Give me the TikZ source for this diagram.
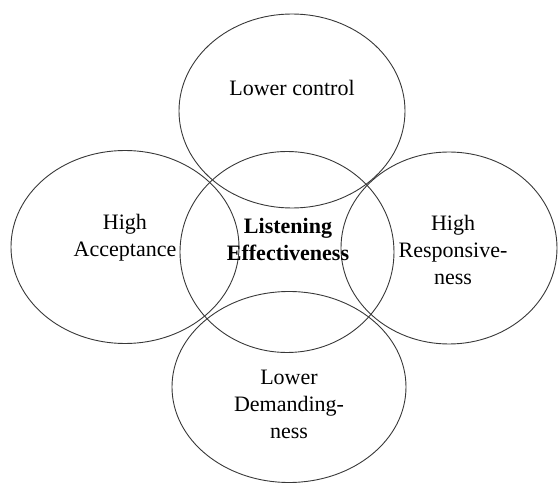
\documentclass[tikz,border=0pt]{standalone}
\usepackage{fontspec}
\setmainfont{Liberation Serif}
\usetikzlibrary{shapes.geometric}
\begin{document}
\begin{tikzpicture}[x=1pt,y=-1pt,
  ring/.style={draw=black!78,line width=0.9pt,ellipse,inner sep=0pt,outer sep=0pt},
  lbl/.style={align=center,inner sep=0pt,font=\fontsize{22}{27}\selectfont}]
  \useasboundingbox (0,0) rectangle (558,484);
  % the five overlapping rings
  \node[ring,minimum width=226pt,minimum height=194pt] (top)    at (292,111) {};
  \node[ring,minimum width=228pt,minimum height=193pt] (left)   at (125,247) {};
  \node[ring,minimum width=214pt,minimum height=201pt] (centre) at (287,252) {};
  \node[ring,minimum width=216pt,minimum height=192pt] (right)  at (449,248) {};
  \node[ring,minimum width=234pt,minimum height=191pt] (bottom) at (289,387) {};
  % labels
  \node[lbl] (ttop)    at (292,88)  {Lower control};
  \node[lbl] (tleft)   at (125,238) {High\\Acceptance};
  \node[lbl,font=\fontsize{22}{27}\selectfont\bfseries] (tcentre) at (288,239) {Listening\\Effectiveness};
  \node[lbl] (tright)  at (453,250) {High\\Responsive-\\ness};
  \node[lbl] (tbottom) at (289,404) {Lower\\Demanding-\\ness};
\end{tikzpicture}
\end{document}
